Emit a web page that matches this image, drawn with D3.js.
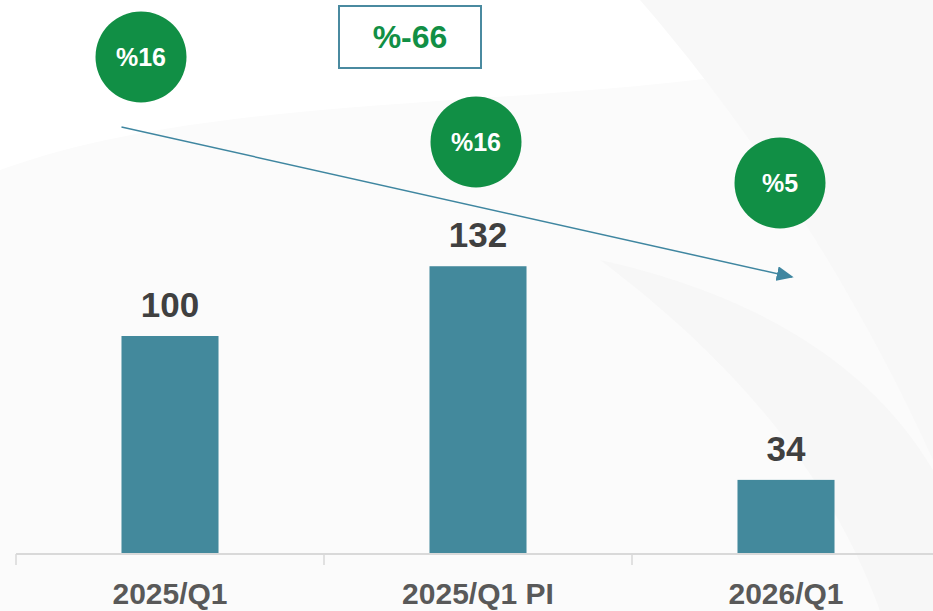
<!DOCTYPE html>
<html>
<head>
<meta charset="utf-8">
<script src="https://cdn.jsdelivr.net/npm/d3@7"></script>
<style>
    html, body { margin: 0; padding: 0; background: #fff; }
    svg { display: block; font-family: "Liberation Sans", Arial, sans-serif; }
</style>
</head>
<body>
<svg id="chart" width="933" height="611"></svg>
<script>
(function () {
    'use strict';

    var categories = ["2025/Q1", "2025/Q1 PI", "2026/Q1"];
    var values = [100, 132, 34];
    var badgeLabels = ["%16", "%16", "%5"];
    var totalChange = "%-66";

    var svg = d3.select("#chart"),
        width = +svg.attr("width"),
        height = +svg.attr("height"),
        baseY = 554;

    // soft background swooshes
    var bg = svg.append("g");
    bg.append("path")
        .attr("d", "M0,170 C250,80 600,120 933,40 L933,611 L0,611 Z")
        .attr("fill", "#fbfbfb");
    bg.append("path")
        .attr("d", "M640,0 C770,150 870,320 933,460 L933,0 Z")
        .attr("fill", "#f8f8f8");
    bg.append("path")
        .attr("d", "M600,260 C760,380 840,500 880,611 L933,611 L933,470 C880,380 780,300 600,260 Z")
        .attr("fill", "#f7f7f7");

    // scales
    var x = d3.scaleBand().domain(categories).range([16, 940]).padding(0);
    var y = d3.scaleLinear().domain([0, 100]).range([baseY, 336]);
    var barW = x.bandwidth() * 0.315;

    // bars
    svg.append("g").selectAll("rect")
        .data(values)
        .enter().append("rect")
        .attr("x", function (d, i) { return x(categories[i]) + x.bandwidth() / 2 - barW / 2; })
        .attr("y", function (d) { return y(d); })
        .attr("width", barW)
        .attr("height", function (d) { return baseY - y(d); })
        .attr("fill", "#43899c");

    // value labels
    svg.append("g").selectAll("text")
        .data(values)
        .enter().append("text")
        .attr("x", function (d, i) { return x(categories[i]) + x.bandwidth() / 2; })
        .attr("y", function (d) { return y(d) - 19; })
        .attr("text-anchor", "middle")
        .attr("font-size", 35)
        .attr("font-weight", "bold")
        .attr("fill", "#404040")
        .text(function (d) { return d; });

    // x axis
    var axis = svg.append("g")
        .attr("transform", "translate(0," + baseY + ")")
        .call(d3.axisBottom(x).tickSize(0).tickPadding(0));
    axis.select(".domain").remove();
    axis.selectAll("text").remove();
    axis.append("line")
        .attr("x1", 16).attr("x2", width)
        .attr("stroke", "#d9d9d9").attr("stroke-width", 2);
    axis.selectAll(".sep")
        .data(categories)
        .enter().append("line")
        .attr("class", "sep")
        .attr("x1", function (d) { return x(d); })
        .attr("x2", function (d) { return x(d); })
        .attr("y1", 0).attr("y2", 11)
        .attr("stroke", "#d9d9d9").attr("stroke-width", 1.5);
    axis.selectAll(".lbl")
        .data(categories)
        .enter().append("text")
        .attr("class", "lbl")
        .attr("x", function (d) { return x(d) + x.bandwidth() / 2; })
        .attr("y", 50)
        .attr("text-anchor", "middle")
        .attr("font-size", 30)
        .attr("font-weight", "bold")
        .attr("fill", "#595959")
        .text(function (d) { return d; });

    // trend arrow
    svg.append("defs").append("marker")
        .attr("id", "head")
        .attr("viewBox", "0 0 10 10")
        .attr("refX", 9).attr("refY", 5)
        .attr("markerWidth", 17).attr("markerHeight", 15)
        .attr("markerUnits", "userSpaceOnUse")
        .attr("orient", "auto")
        .attr("preserveAspectRatio", "none")
        .append("path")
        .attr("d", "M0,0 L10,5 L0,10 Z")
        .attr("fill", "#3f86a0");
    var x0 = x(categories[0]) + x.bandwidth() / 2 - barW / 2,
        x2 = x(categories[2]) + x.bandwidth() / 2 + 6;
    svg.append("line")
        .attr("x1", x0).attr("y1", 127)
        .attr("x2", x2).attr("y2", 277)
        .attr("stroke", "#3f86a0")
        .attr("stroke-width", 1.5)
        .attr("marker-end", "url(#head)");

    // growth badges
    var badgeOffsets = [[-29, 57], [-2, 142], [-6, 183]];
    var badges = svg.append("g").selectAll("g")
        .data(badgeLabels)
        .enter().append("g")
        .attr("transform", function (d, i) {
            var cx = x(categories[i]) + x.bandwidth() / 2 + badgeOffsets[i][0];
            return "translate(" + cx + "," + badgeOffsets[i][1] + ")";
        });
    badges.append("ellipse")
        .attr("rx", 45.5).attr("ry", 45.5)
        .attr("fill", "#118f45");
    badges.append("text")
        .attr("y", 9)
        .attr("text-anchor", "middle")
        .attr("font-size", 25)
        .attr("font-weight", "bold")
        .attr("fill", "#fff")
        .text(function (d) { return d; });

    // total change box
    var box = svg.append("g").attr("transform", "translate(339,6)");
    box.append("rect")
        .attr("width", 142).attr("height", 62)
        .attr("fill", "#fff")
        .attr("stroke", "#4a8aa0").attr("stroke-width", 2);
    box.append("text")
        .attr("x", 71).attr("y", 42)
        .attr("text-anchor", "middle")
        .attr("font-size", 32)
        .attr("font-weight", "bold")
        .attr("fill", "#118f45")
        .text(totalChange);
})();
</script>
</body>
</html>
